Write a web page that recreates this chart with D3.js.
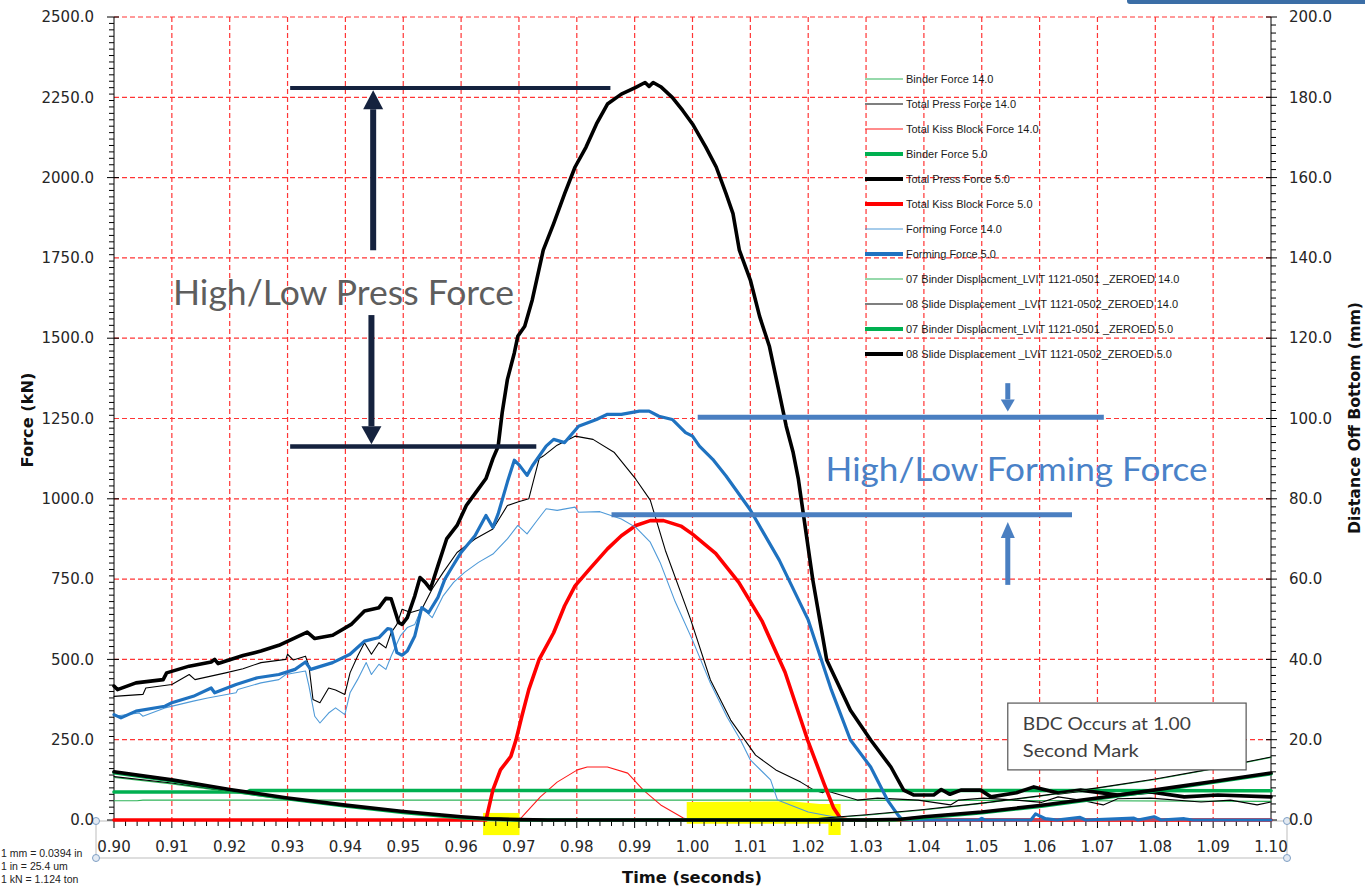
<!DOCTYPE html>
<html><head><meta charset="utf-8">
<script src="https://cdn.jsdelivr.net/npm/d3@7"></script>
<style>body{margin:0;background:#fff;overflow:hidden}svg{display:block}</style>
</head><body>
<svg id="chart" width="1365" height="886"></svg>
<script>
// ---------- DATA ----------
const timeTicks = [0.90,0.91,0.92,0.93,0.94,0.95,0.96,0.97,0.98,0.99,1.00,1.01,1.02,1.03,1.04,1.05,1.06,1.07,1.08,1.09,1.10];
const forceTicks = [0,250,500,750,1000,1250,1500,1750,2000,2250,2500];
const distTicks = [0,20,40,60,80,100,120,140,160,180,200];

const seriesNames = [
  "Binder Force  14.0","Total Press Force 14.0","Total Kiss Block Force 14.0",
  "Binder Force 5.0","Total Press Force 5.0","Total Kiss Block Force 5.0",
  "Forming Force 14.0","Forming Force 5.0",
  "07 Binder Displacment_LVIT 1121-0501 _ZEROED 14.0",
  "08 Slide Displacement _LVIT 1121-0502_ZEROED 14.0",
  "07 Binder Displacment_LVIT 1121-0501 _ZEROED 5.0",
  "08 Slide Displacement _LVIT 1121-0502_ZEROED 5.0"
];

// [time (s), force (kN)]
const binderForce14 = [[0.90,60],[0.904,60],[0.905,62],[0.95,62],[1.00,62],[1.05,61],[1.10,58]];
const totalPress14 = [[0.900,385],[0.905,391],[0.9055,411],[0.910,422],[0.913,453],[0.914,437],[0.9193,458],[0.9223,471],[0.9254,490],[0.9297,500],[0.930,516],[0.931,498],[0.9331,510],[0.9337,479],[0.9344,375],[0.9356,365],[0.9371,411],[0.9383,405],[0.9399,391],[0.9408,458],[0.9421,510],[0.9433,552],[0.9445,516],[0.9458,552],[0.947,536],[0.9479,583],[0.9489,609],[0.9498,656],[0.9513,646],[0.9532,656],[0.955,719],[0.9569,771],[0.9593,833],[0.9624,875],[0.9655,906],[0.968,979],[0.9698,990],[0.9717,1000],[0.9735,1125],[0.9742,1133],[0.9766,1167],[0.9797,1195],[0.9828,1185],[0.9865,1144],[0.9902,1061],[0.9927,996],[0.9953,840],[0.9997,623],[1.0031,436],[1.0066,311],[1.0109,202],[1.0144,156],[1.0187,118],[1.021,93],[1.0225,85],[1.023,92],[1.0285,62],[1.032,68],[1.039,62],[1.0446,47],[1.046,62],[1.0503,68],[1.056,62],[1.0604,55],[1.0632,72],[1.067,62],[1.071,47],[1.0735,66],[1.0792,68],[1.0879,56],[1.093,62],[1.0976,47],[1.10,56]];
const kissForce14 = [[0.90,0],[0.970,0],[0.9705,9],[0.9737,72],[0.9766,118],[0.9801,156],[0.9818,165],[0.9853,165],[0.9888,146],[0.9915,93],[0.9945,47],[0.9984,6],[0.9995,0],[1.10,0]];
const binderForce5 = [[0.90,87],[0.923,87],[0.9235,92],[1.00,92],[1.05,92],[1.10,91]];
const totalPress5 = [[0.900,417],[0.9006,406],[0.9038,427],[0.9085,437],[0.9091,458],[0.913,479],[0.9168,492],[0.9174,500],[0.918,487],[0.9223,512],[0.9254,526],[0.9285,544],[0.931,565],[0.9334,585],[0.9347,565],[0.9378,575],[0.941,609],[0.9433,651],[0.9458,661],[0.947,690],[0.9479,689],[0.9492,615],[0.9498,609],[0.9507,630],[0.952,698],[0.9529,755],[0.9538,740],[0.9547,719],[0.956,792],[0.9575,875],[0.9593,917],[0.9609,979],[0.9624,1016],[0.9643,1063],[0.9655,1125],[0.9664,1163],[0.9671,1268],[0.968,1371],[0.9692,1454],[0.9698,1506],[0.971,1537],[0.9723,1619],[0.9742,1774],[0.976,1857],[0.9779,1950],[0.9797,2033],[0.9816,2095],[0.9834,2167],[0.9853,2229],[0.9877,2260],[0.9902,2281],[0.9918,2296],[0.9925,2284],[0.9932,2296],[0.9945,2283],[0.9965,2250],[0.9983,2209],[1.000,2167],[1.0023,2095],[1.0041,2033],[1.0058,1950],[1.007,1888],[1.0081,1774],[1.010,1681],[1.0116,1568],[1.0133,1474],[1.015,1330],[1.0162,1226],[1.0174,1144],[1.0183,1061],[1.0208,747],[1.0232,498],[1.0273,342],[1.0308,249],[1.0343,165],[1.0365,93],[1.0382,78],[1.0417,78],[1.043,95],[1.0445,80],[1.0464,93],[1.0498,93],[1.0516,72],[1.056,85],[1.059,103],[1.0632,84],[1.0671,93],[1.0735,78],[1.0792,87],[1.085,72],[1.0908,78],[1.10,72]];
const kissForce5 = [[0.90,0],[0.9643,0],[0.9655,94],[0.9668,156],[0.9686,198],[0.9695,250],[0.9705,323],[0.9717,406],[0.9735,500],[0.976,583],[0.9779,667],[0.9797,729],[0.9822,781],[0.9853,844],[0.9877,885],[0.9902,917],[0.9927,932],[0.995,932],[0.998,915],[1.000,890],[1.004,830],[1.008,740],[1.012,620],[1.016,460],[1.0199,249],[1.0227,115],[1.0244,37],[1.0256,5],[1.027,0],[1.10,0]];
const formingForce14 = [[0.900,323],[0.9044,333],[0.905,323],[0.9088,349],[0.9137,370],[0.9162,380],[0.9211,396],[0.9214,406],[0.9254,427],[0.9285,437],[0.9297,453],[0.9331,464],[0.9337,417],[0.9347,323],[0.9356,302],[0.9371,333],[0.9383,349],[0.9399,328],[0.9408,396],[0.9421,437],[0.9436,490],[0.9445,453],[0.9458,485],[0.947,469],[0.9479,510],[0.9495,573],[0.9507,599],[0.952,609],[0.9532,661],[0.955,630],[0.9569,698],[0.9587,740],[0.9606,771],[0.963,802],[0.9655,828],[0.968,875],[0.9698,917],[0.9714,891],[0.9729,927],[0.9747,969],[0.9766,964],[0.9797,974],[0.9803,958],[0.984,960],[0.9877,937],[0.9902,911],[0.9927,865],[0.9944,802],[0.997,680],[1.000,560],[1.003,430],[1.006,320],[1.0083,249],[1.010,187],[1.0135,125],[1.0147,62],[1.020,25],[1.025,8],[1.028,0],[1.10,0]];
const formingForce5 = [[0.900,328],[0.9012,318],[0.9038,339],[0.9088,354],[0.910,365],[0.9137,385],[0.9168,411],[0.9174,396],[0.9211,422],[0.9248,443],[0.9285,453],[0.9313,469],[0.9331,492],[0.934,469],[0.9378,490],[0.9408,516],[0.9433,557],[0.9458,568],[0.9473,596],[0.9479,594],[0.9489,521],[0.9498,513],[0.9507,526],[0.952,573],[0.9532,661],[0.9544,646],[0.956,693],[0.9572,750],[0.9584,786],[0.960,833],[0.9624,885],[0.9643,948],[0.9655,911],[0.9664,953],[0.968,1052],[0.9692,1120],[0.9701,1104],[0.9714,1073],[0.9723,1102],[0.9747,1164],[0.976,1185],[0.9779,1175],[0.9803,1226],[0.9834,1247],[0.9853,1263],[0.9877,1263],[0.9908,1273],[0.9925,1273],[0.9942,1257],[0.9965,1247],[0.9988,1206],[1.000,1195],[1.0012,1164],[1.0035,1123],[1.0058,1071],[1.010,965],[1.015,809],[1.020,623],[1.024,405],[1.0273,249],[1.0308,165],[1.0337,62],[1.0355,16],[1.0363,0],[1.0495,0],[1.050,5],[1.0505,0],[1.0585,0],[1.0593,19],[1.061,4],[1.063,0],[1.067,8],[1.068,0],[1.0763,6],[1.077,0],[1.0798,10],[1.081,0],[1.085,4],[1.0865,0],[1.10,0]];
// [time (s), distance off bottom (mm)]
const binderDisp14 = [[0.90,10.6],[0.91,9.0],[0.92,7.0],[0.93,5.1],[0.94,3.4],[0.95,1.9],[0.96,0.7],[0.97,0.1],[0.975,0],[1.016,0],[1.02,0.2],[1.03,1.2],[1.04,2.5],[1.05,4.1],[1.06,5.9],[1.07,7.9],[1.08,10.1],[1.09,12.7],[1.10,15.6]];
const slideDisp14 = [[0.90,10.8],[0.91,9.2],[0.92,7.2],[0.93,5.3],[0.94,3.6],[0.95,2.0],[0.96,0.8],[0.97,0.2],[0.975,0],[1.015,0],[1.02,0.2],[1.03,1.3],[1.04,2.6],[1.05,4.2],[1.06,6.0],[1.07,8.0],[1.08,10.2],[1.09,12.8],[1.10,15.7]];
const binderDisp5 = [[0.90,11.8],[0.91,9.8],[0.92,7.4],[0.93,5.3],[0.94,3.5],[0.95,1.9],[0.96,0.6],[0.965,0.2],[0.97,0],[1.035,0],[1.04,0.6],[1.05,1.8],[1.06,3.4],[1.07,5.3],[1.08,7.3],[1.09,9.4],[1.10,11.5]];
const slideDisp5 = [[0.90,12.0],[0.91,10.0],[0.92,7.6],[0.93,5.5],[0.94,3.7],[0.95,2.1],[0.96,0.8],[0.965,0.3],[0.97,0.1],[0.975,0],[1.03,0],[1.036,0.2],[1.04,0.8],[1.05,2.0],[1.06,3.6],[1.07,5.5],[1.08,7.5],[1.09,9.6],[1.10,11.7]];

// annotation values (time, force)
const pressHigh = 2279, pressLow = 1163;
const formingHigh = 1254, formingLow = 950;
const highlightSpans = [[0.9638,0.9701],[0.999,1.0256]];
const unitNotes = ["1 mm = 0.0394 in","1 in = 25.4 um","1 kN = 1.124 ton"];
const bdcNote = ["BDC Occurs at 1.00","Second Mark"];

// ---------- CHART ----------
const svg = d3.select("#chart");
const L = 114, R = 1271, T = 17, B = 820;
const x = d3.scaleLinear([0.90,1.10],[L,R]);
const yF = d3.scaleLinear([0,2500],[B,T]);
const yD = d3.scaleLinear([0,200],[B,T]);
const tickFont = "'DejaVu Sans', Verdana, sans-serif";

// top-right decorative bar
svg.append("rect").attr("x",1127).attr("y",-4).attr("width",240).attr("height",8).attr("rx",3).attr("fill","#3b6ea6");

// grid
const grid = svg.append("g").attr("stroke","#ff2020").attr("stroke-width",1.2).attr("stroke-dasharray","5,3").attr("opacity",0.9);
timeTicks.slice(1,-1).forEach(t=>grid.append("line").attr("x1",x(t)).attr("x2",x(t)).attr("y1",T).attr("y2",B));
forceTicks.slice(1).forEach(f=>grid.append("line").attr("x1",L).attr("x2",R).attr("y1",yF(f)).attr("y2",yF(f)));

// yellow highlights
const hl = svg.append("g").attr("fill","#ffff00");
hl.append("rect").attr("x",x(highlightSpans[0][0])).attr("width",x(highlightSpans[0][1])-x(highlightSpans[0][0]))
  .attr("y",yF(22)).attr("height",yF(-47)-yF(22));
{
  const a=highlightSpans[1][0], b=highlightSpans[1][1];
  const pts=[[a,56],[1.017,58],[1.022,50],[b,50],[b,-47],[1.0235,-47],[1.0235,-12],[a,-12]];
  hl.append("path").attr("d",d3.line().x(d=>x(d[0])).y(d=>yF(d[1]))(pts)+"Z");
}

// axis frame (selection box) under x labels
svg.append("rect").attr("x",96).attr("y",821).attr("width",1191).attr("height",37).attr("fill","none").attr("stroke","#bdbdbd").attr("stroke-width",1);
[[96,821],[1287,821],[96,858],[1287,858]].forEach(p=>svg.append("circle").attr("cx",p[0]).attr("cy",p[1]).attr("r",3.5).attr("fill","#e3eaf3").attr("stroke","#7f9fc4").attr("stroke-width",1));

// series
const series = [
  {d:binderForce14, s:yF, c:"#2fb458", w:1.1},
  {d:totalPress14, s:yF, c:"#000000", w:1.1},
  {d:kissForce14, s:yF, c:"#ff1a1a", w:1.1},
  {d:binderForce5, s:yF, c:"#00b050", w:3.6},
  {d:totalPress5, s:yF, c:"#000000", w:3.6},
  {d:kissForce5, s:yF, c:"#ff0000", w:3.6},
  {d:formingForce14, s:yF, c:"#4f9ad8", w:1.1},
  {d:formingForce5, s:yF, c:"#1f72c0", w:3.2},
  {d:binderDisp14, s:yD, c:"#2fb458", w:1.1},
  {d:slideDisp14, s:yD, c:"#000000", w:1.1},
  {d:binderDisp5, s:yD, c:"#00b050", w:3.6},
  {d:slideDisp5, s:yD, c:"#000000", w:3.6}
];

// axes lines and ticks
const ax = svg.append("g").attr("stroke","#000").attr("stroke-width",1);
ax.append("line").attr("x1",L).attr("x2",L).attr("y1",T).attr("y2",B);
ax.append("line").attr("x1",R).attr("x2",R).attr("y1",T).attr("y2",B);
ax.append("line").attr("x1",L).attr("x2",R).attr("y1",B).attr("y2",B);
yF.ticks(100).forEach(v=>{const maj = v%250===0; ax.append("line").attr("x1",L-(maj?7:5)).attr("x2",L+(maj?5:0)).attr("y1",yF(v)).attr("y2",yF(v));});
yD.ticks(100).forEach(v=>{const maj = v%20===0; ax.append("line").attr("x1",R-(maj?5:0)).attr("x2",R+(maj?6:5)).attr("y1",yD(v)).attr("y2",yD(v));});
x.ticks(100).forEach(v=>{const maj = Math.abs(v*100-Math.round(v*100))<1e-6; ax.append("line").attr("x1",x(v)).attr("x2",x(v)).attr("y1",B).attr("y2",B+(maj?8:6));});

const lines = svg.append("g").attr("fill","none").attr("stroke-linejoin","round").attr("stroke-linecap","round");
series.forEach(sr=>{
  lines.append("path").attr("d",d3.line().x(d=>x(d[0])).y(d=>sr.s(d[1]))(sr.d)).attr("stroke",sr.c).attr("stroke-width",sr.w);
});

// tick labels
const lab = svg.append("g").attr("font-family",tickFont).attr("font-size",15).attr("fill","#262626");
forceTicks.forEach(v=>lab.append("text").attr("x",94).attr("y",yF(v)).attr("dy","0.35em").attr("text-anchor","end").text(d3.format(".1f")(v)));
distTicks.forEach(v=>lab.append("text").attr("x",1289).attr("y",yD(v)).attr("dy","0.35em").text(d3.format(".1f")(v)));
timeTicks.forEach(v=>lab.append("text").attr("x",x(v)).attr("y",852).attr("text-anchor","middle").text(d3.format(".2f")(v)));

// axis titles
svg.append("text").attr("x",692).attr("y",883).attr("text-anchor","middle").attr("font-family",tickFont).attr("font-weight","bold").attr("font-size",16).attr("fill","#111").attr("textLength",140).attr("lengthAdjust","spacingAndGlyphs").text("Time (seconds)");
svg.append("clipPath").attr("id","lclip").append("rect").attr("x",21).attr("y",0).attr("width",100).attr("height",886);
svg.append("g").attr("clip-path","url(#lclip)").append("text").attr("transform","translate(33,420) rotate(-90)").attr("text-anchor","middle").attr("font-family",tickFont).attr("font-weight","bold").attr("font-size",16).attr("fill","#111").attr("textLength",95).attr("lengthAdjust","spacingAndGlyphs").text("Force (kN)");
svg.append("text").attr("transform","translate(1360,418) rotate(-90)").attr("text-anchor","middle").attr("font-family",tickFont).attr("font-weight","bold").attr("font-size",15).attr("fill","#111").attr("textLength",232).attr("lengthAdjust","spacingAndGlyphs").text("Distance  Off Bottom (mm)");

// unit notes
const un = svg.append("g").attr("font-family","'Liberation Sans', Arial, sans-serif").attr("font-size",10.5).attr("fill","#222");
unitNotes.forEach((s,i)=>un.append("text").attr("x",1).attr("y",857+i*13).text(s));

// legend
const lg = svg.append("g").attr("font-family","'Liberation Sans', Arial, sans-serif").attr("font-size",11).attr("fill","#1a1a1a");
series.forEach((sr,i)=>{
  const yy = 79 + i*25;
  lg.append("line").attr("x1",865).attr("x2",903).attr("y1",yy).attr("y2",yy).attr("stroke",sr.c).attr("stroke-width",sr.w>2?4:1.2);
  lg.append("text").attr("x",906).attr("y",yy).attr("dy","0.35em").text(seriesNames[i]);
});

// press force annotation
const navy = "#15223e";
const an = svg.append("g");
an.append("line").attr("x1",x(0.93045)).attr("x2",x(0.98581)).attr("y1",yF(pressHigh)).attr("y2",yF(pressHigh)).attr("stroke",navy).attr("stroke-width",4);
an.append("line").attr("x1",x(0.93045)).attr("x2",x(0.9730)).attr("y1",yF(pressLow)).attr("y2",yF(pressLow)).attr("stroke",navy).attr("stroke-width",4.5);
function arrow(g, t, fTail, fTip, color, shaftW, headW, headL){
  const xc = x(t), y0 = yF(fTail), y1 = yF(fTip);
  const dir = y1 < y0 ? -1 : 1;
  const yb = y1 - dir*headL;
  g.append("line").attr("x1",xc).attr("x2",xc).attr("y1",y0).attr("y2",yb).attr("stroke",color).attr("stroke-width",shaftW);
  g.append("path").attr("d",`M${xc},${y1}L${xc-headW/2},${yb}L${xc+headW/2},${yb}Z`).attr("fill",color);
}
arrow(an, 0.9448, 1774, 2272, navy, 6, 20, 19);
arrow(an, 0.9445, 1572, 1170, navy, 6, 20, 18);
an.append("text").attr("x",x(0.9102)).attr("y",yF(1603)).attr("font-family","Lato, 'Open Sans', sans-serif").attr("font-size",34).attr("fill","#5e5e5e").attr("textLength",341).attr("lengthAdjust","spacingAndGlyphs").text("High/Low Press Force");

// forming force annotation
const fb = "#4a7fc1";
an.append("line").attr("x1",x(1.0009)).attr("x2",x(1.0711)).attr("y1",yF(formingHigh)).attr("y2",yF(formingHigh)).attr("stroke",fb).attr("stroke-width",5);
an.append("line").attr("x1",x(0.986)).attr("x2",x(1.0656)).attr("y1",yF(formingLow)).attr("y2",yF(formingLow)).attr("stroke",fb).attr("stroke-width",5);
arrow(an, 1.0545, 1360, 1272, fb, 5, 14, 12);
arrow(an, 1.0545, 732, 928, fb, 5, 14, 16);
an.append("text").attr("x",x(1.023)).attr("y",yF(1055)).attr("font-family","Lato, 'Open Sans', sans-serif").attr("font-size",33).attr("fill","#4a82c8").attr("textLength",382).attr("lengthAdjust","spacingAndGlyphs").text("High/Low Forming Force");

// BDC box
const bx = svg.append("g");
bx.append("rect").attr("x",x(1.0545)).attr("y",yF(364)).attr("width",x(1.0957)-x(1.0545)).attr("height",yF(156)-yF(364)).attr("fill","#fff").attr("stroke","#555").attr("stroke-width",1.2);
bx.append("text").attr("x",x(1.0571)).attr("y",yF(280)).attr("font-family","Lato, 'Open Sans', sans-serif").attr("font-size",18).attr("fill","#404040").attr("textLength",168).attr("lengthAdjust","spacingAndGlyphs").text(bdcNote[0]);
bx.append("text").attr("x",x(1.0571)).attr("y",yF(196)).attr("font-family","Lato, 'Open Sans', sans-serif").attr("font-size",18).attr("fill","#404040").attr("textLength",116).attr("lengthAdjust","spacingAndGlyphs").text(bdcNote[1]);
</script>
</body></html>
